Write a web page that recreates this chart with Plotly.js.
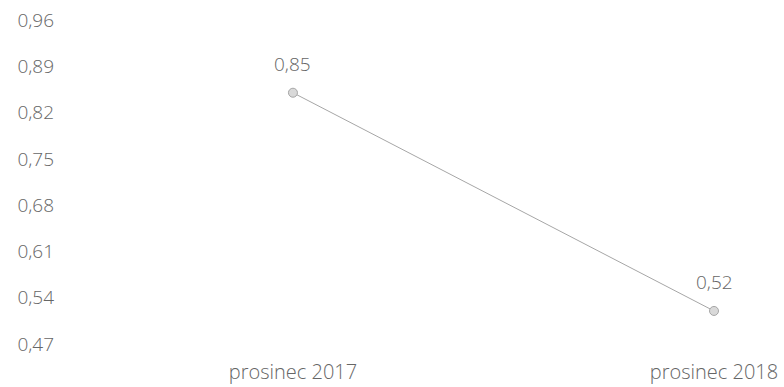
<!DOCTYPE html>
<html><head><meta charset="utf-8">
<script src="https://cdn.plot.ly/plotly-3.0.1.min.js"></script>
<style>html,body{margin:0;padding:0;background:#fff}</style>
</head><body>
<div id="chart" style="width:784px;height:387px"></div>
<script>
const categories = ['prosinec 2017', 'prosinec 2018'];
const values = [0.85, 0.52];
const yTicks = [0.47, 0.54, 0.61, 0.68, 0.75, 0.82, 0.89, 0.96];

const FONT = 'Open Sans, sans-serif';
const TXT = '#666666';

const trace = {
  x: [0, 1],
  y: values,
  type: 'scatter',
  mode: 'lines+markers',
  line: {color: '#a6a6a6', width: 1},
  marker: {size: 9, color: '#d9d9d9', line: {color: '#a6a6a6', width: 1}},
  cliponaxis: false,
  hoverinfo: 'skip'
};

const annotations = values.map((v, i) => ({
  x: i, y: v, xref: 'x', yref: 'y',
  text: v.toFixed(2).replace('.', ','),
  showarrow: false, yshift: 29,
  font: {family: FONT, size: 19, color: TXT, weight: 300}
}));

const layout = {
  width: 784, height: 387,
  margin: {l: 58, r: 10, t: 20, b: 43},
  separators: ',.',
  paper_bgcolor: '#fff', plot_bgcolor: '#fff',
  showlegend: false,
  font: {family: FONT, size: 19, color: TXT, weight: 300},
  annotations: annotations,
  xaxis: {
    range: [-0.558, 1.1425],
    tickvals: [0, 1],
    ticktext: categories,
    showgrid: false, zeroline: false, showline: false,
    ticks: '', ticklabelstandoff: 14,
    tickfont: {family: FONT, size: 20, color: TXT, weight: 300}
  },
  yaxis: {
    range: [0.47, 0.96],
    tickvals: yTicks,
    tickformat: '.2f',
    showgrid: false, zeroline: false, showline: false,
    ticks: '', ticklabelstandoff: 3,
    tickfont: {family: FONT, size: 19, color: TXT, weight: 300}
  }
};

Plotly.newPlot('chart', [trace], layout, {displayModeBar: false, staticPlot: true});
</script>
</body></html>
